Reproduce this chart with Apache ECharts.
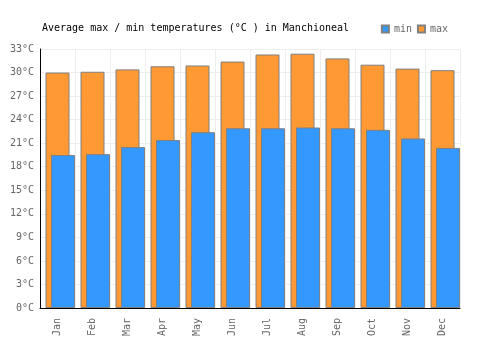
<!DOCTYPE html>
<html>
<head>
<meta charset="utf-8">
<script src="https://cdn.jsdelivr.net/npm/echarts@6/dist/echarts.min.js"></script>
<style>
  html, body { margin: 0; padding: 0; background: #fff; }
  #chart { width: 500px; height: 350px; }
</style>
</head>
<body>
<div id="chart"></div>
<script>
var months = ['Jan', 'Feb', 'Mar', 'Apr', 'May', 'Jun', 'Jul', 'Aug', 'Sep', 'Oct', 'Nov', 'Dec'];
var minTemps = [19.5, 19.6, 20.5, 21.4, 22.4, 22.9, 22.9, 23.0, 22.9, 22.7, 21.6, 20.4];
var maxTemps = [30.0, 30.1, 30.4, 30.8, 30.9, 31.4, 32.3, 32.4, 31.8, 31.0, 30.5, 30.3];
var yTicks = { min: 0, max: 33, step: 3 };

var font = '"DejaVu Sans Mono", "Liberation Mono", monospace';

var chart = echarts.init(document.getElementById('chart'));
var option = {
    animation: false,
    title: {
        text: 'Average max / min temperatures (°C ) in Manchioneal',
        left: 37,
        top: 18,
        textStyle: { fontFamily: font, fontSize: 10, fontWeight: 'normal', color: '#000' }
    },
    legend: {
        data: ['min', 'max'],
        right: 47,
        top: 19,
        itemWidth: 7,
        itemHeight: 7,
        itemGap: 5,
        icon: 'rect',
        textStyle: { fontFamily: font, fontSize: 10, color: '#666' }
    },
    grid: { left: 40, right: 40, top: 49, bottom: 42 },
    xAxis: {
        type: 'category',
        data: months,
        axisLine: { lineStyle: { color: '#000', width: 1 } },
        axisTick: { show: false },
        splitLine: { show: true, lineStyle: { color: '#eee' } },
        axisLabel: { rotate: 90, fontFamily: font, fontSize: 10, color: '#666', margin: 10 }
    },
    yAxis: {
        type: 'value',
        min: yTicks.min,
        max: yTicks.max,
        interval: yTicks.step,
        axisLine: { show: true, lineStyle: { color: '#000', width: 1 } },
        axisTick: { show: false },
        splitLine: { lineStyle: { color: '#eee' } },
        axisLabel: { formatter: '{value}°C', fontFamily: font, fontSize: 10, color: '#666', margin: 6 }
    },
    series: [{
        // empty spacer so the pair sits where the reference puts it
        name: 'spacer',
        type: 'bar',
        data: [],
        barWidth: 24,
        barGap: '-77%',
        silent: true
    }, {
        name: 'max',
        type: 'bar',
        data: maxTemps,
        barWidth: 24,
        barGap: '-77%',
        itemStyle: { color: '#ff9933', borderColor: '#808080', borderWidth: 1 }
    }, {
        name: 'min',
        type: 'bar',
        data: minTemps,
        barWidth: 24,
        barGap: '-77%',
        itemStyle: { color: '#3399ff', borderColor: '#808080', borderWidth: 1 }
    }]
};
chart.setOption(option);
</script>
</body>
</html>
